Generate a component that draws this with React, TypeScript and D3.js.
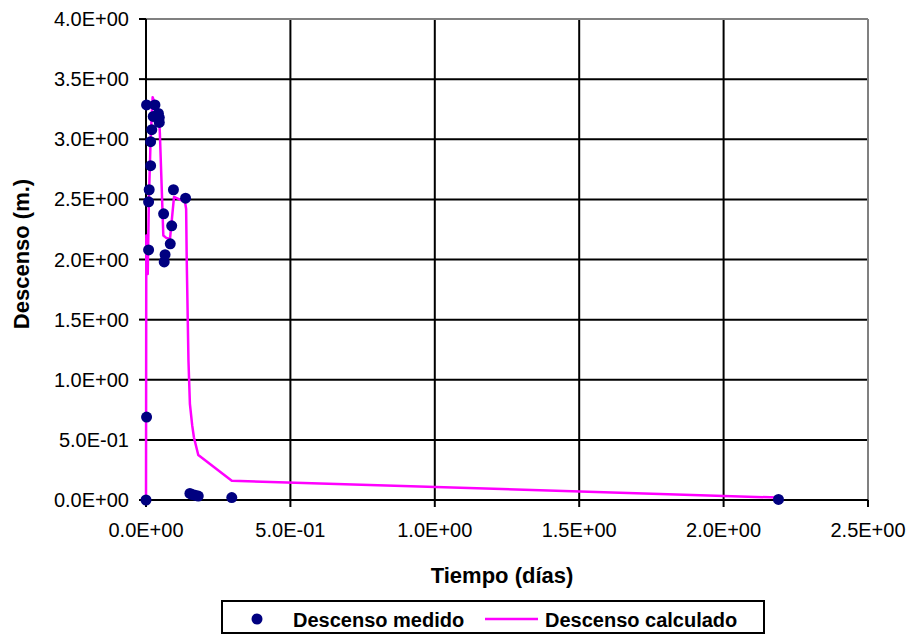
import React from "react";
import * as d3 from "d3";

const measuredT = [0, 0.002, 0.009, 0.009, 0.011, 0.016, 0.016, 0.020, 0.025, 0.002, 0.031, 0.043, 0.046, 0.046, 0.063, 0.066, 0.061, 0.084, 0.089, 0.095, 0.137, 0.152, 0.160, 0.170, 0.181, 0.297, 2.19];
const measuredS = [0, 0.69, 2.08, 2.48, 2.58, 2.78, 2.98, 3.08, 3.19, 3.285, 3.285, 3.215, 3.18, 3.14, 1.98, 2.04, 2.38, 2.13, 2.28, 2.58, 2.51, 0.055, 0.045, 0.04, 0.033, 0.02, 0.005];

const calcT = [0, 0.001, 0.004, 0.006, 0.010, 0.016, 0.023, 0.030, 0.045, 0.048, 0.060, 0.070, 0.083, 0.097, 0.135, 0.139, 0.141, 0.147, 0.152, 0.160, 0.166, 0.181, 0.297, 2.19];
const calcS = [0, 2.2, 2.2, 1.88, 2.5, 3.0, 3.35, 3.3, 3.2, 3.05, 2.2, 2.18, 2.17, 2.52, 2.48, 2.42, 2.0, 1.16, 0.8, 0.62, 0.52, 0.374, 0.16, 0.02];

const xTicks = [0, 0.5, 1.0, 1.5, 2.0, 2.5];
const yTicks = [0, 0.5, 1.0, 1.5, 2.0, 2.5, 3.0, 3.5, 4.0];

const xTitle = "Tiempo (días)";
const yTitle = "Descenso (m.)";
const seriesNames = ["Descenso medido", "Descenso calculado"];

function fmt(v: number): string {
  const s = v.toExponential(1);
  const [m, e] = s.split("e");
  const sign = e[0] === "-" ? "-" : "+";
  const digits = e.replace(/[+-]/, "").padStart(2, "0");
  return `${m}E${sign}${digits}`;
}

export default function App() {
  const W = 914, H = 637;
  const left = 146, right = 868, top = 19, bottom = 500;
  const x = d3.scaleLinear().domain([0, 2.5]).range([left, right]);
  const y = d3.scaleLinear().domain([0, 4]).range([bottom, top]);
  const font = "'Liberation Sans', Arial, sans-serif";

  const lineData = calcT.map((t, i) => [t, calcS[i]] as [number, number]);
  const line = d3.line<[number, number]>().x(d => x(d[0])).y(d => y(d[1]));

  return (
    <svg width={W} height={H} style={{ position: "absolute", left: 0, top: 0, background: "#fff" }} fontFamily={font}>
      <rect x={0} y={0} width={W} height={H} fill="#fff" />
      {yTicks.map((t, i) => (
        t > 0 && t < 4 ? <line key={"gy" + i} x1={left} x2={right} y1={y(t)} y2={y(t)} stroke="#000" strokeWidth={2} /> : null
      ))}
      {xTicks.map((t, i) => (
        t > 0 && t < 2.5 ? <line key={"gx" + i} x1={x(t)} x2={x(t)} y1={top} y2={bottom} stroke="#000" strokeWidth={2} /> : null
      ))}
      <line x1={left} x2={right} y1={top} y2={top} stroke="#808080" strokeWidth={2} />
      <line x1={right} x2={right} y1={top} y2={bottom} stroke="#808080" strokeWidth={2} />
      <line x1={left} x2={left} y1={top} y2={bottom} stroke="#000" strokeWidth={2} />
      <line x1={left} x2={right} y1={bottom} y2={bottom} stroke="#000" strokeWidth={2} />
      {yTicks.map((t, i) => (
        <g key={"yt" + i}>
          <line x1={left - 7} x2={left} y1={y(t)} y2={y(t)} stroke="#000" strokeWidth={2} />
          <text x={left - 17} y={y(t)} dy="0.35em" textAnchor="end" fontSize={20}>{fmt(t)}</text>
        </g>
      ))}
      {xTicks.map((t, i) => (
        <g key={"xt" + i}>
          <line x1={x(t)} x2={x(t)} y1={bottom} y2={bottom + 7} stroke="#000" strokeWidth={2} />
          <text x={x(t)} y={537} textAnchor="middle" fontSize={20}>{fmt(t)}</text>
        </g>
      ))}
      <path d={line(lineData) || ""} fill="none" stroke="#FF00FF" strokeWidth={2.5} strokeLinejoin="round" />
      {measuredT.map((t, i) => (
        <circle key={"p" + i} cx={x(t)} cy={y(measuredS[i])} r={5.5} fill="#000080" />
      ))}
      <text x={502} y={583} textAnchor="middle" fontSize={22} fontWeight="bold">{xTitle}</text>
      <text transform={`translate(29,254) rotate(-90)`} textAnchor="middle" fontSize={22} fontWeight="bold">{yTitle}</text>
      <rect x={222} y={601} width={542} height={32} fill="#fff" stroke="#000" strokeWidth={2} />
      <circle cx={257} cy={619} r={5.5} fill="#000080" />
      <text x={293} y={627} fontSize={20} fontWeight="bold">{seriesNames[0]}</text>
      <line x1={485} x2={538} y1={619} y2={619} stroke="#FF00FF" strokeWidth={2.5} />
      <text x={545} y={627} fontSize={20} fontWeight="bold">{seriesNames[1]}</text>
    </svg>
  );
}
